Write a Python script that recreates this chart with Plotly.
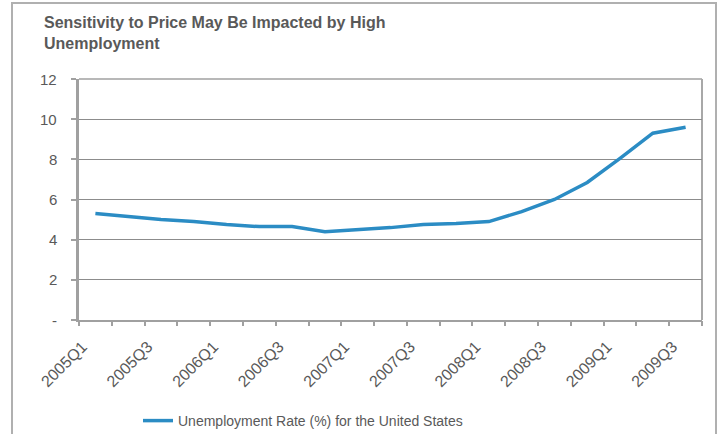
import plotly.graph_objects as go

# Quarterly unemployment rate (%), United States
quarters = [
    "2005Q1", "2005Q2", "2005Q3", "2005Q4",
    "2006Q1", "2006Q2", "2006Q3", "2006Q4",
    "2007Q1", "2007Q2", "2007Q3", "2007Q4",
    "2008Q1", "2008Q2", "2008Q3", "2008Q4",
    "2009Q1", "2009Q2", "2009Q3",
]
unemployment = [
    5.3, 5.15, 5.0, 4.9,
    4.75, 4.65, 4.65, 4.4,
    4.5, 4.6, 4.75, 4.8,
    4.9, 5.4, 6.0, 6.85,
    8.05, 9.3, 9.6,
]
y_ticks = [0, 2, 4, 6, 8, 10, 12]
y_tick_text = ["-", "2", "4", "6", "8", "10", "12"]

series_name = "Unemployment Rate (%) for the United States"
title_text = "Sensitivity to Price May Be Impacted by High<br>Unemployment"

FONT = "Liberation Sans, Arial, sans-serif"
TEXT = "#595959"
AXIS = "#a0a0a0"
GRID = "#8c8c8c"
BLUE = "#2b8cc4"

# page and plot-area geometry in pixels
W, H = 723, 434
ML, MR, T, B = 30, 21, 79, 114      # figure margins
PLOT_LEFT = 79                       # left edge of the plotting area
PW, PH = W - ML - MR, H - T - B


def px_x(x):
    return (x - ML) / PW


def px_y(y):
    return (H - B - y) / PH


idx = list(range(len(quarters)))
label_idx = idx[::2]
label_text = [quarters[i] for i in label_idx]
boundaries = [i - 0.5 for i in range(len(quarters) + 1)]

fig = go.Figure()
fig.add_trace(go.Scatter(
    x=idx, y=unemployment, mode="lines", name=series_name,
    line=dict(color=BLUE, width=3.5),
))
# invisible copy that carries the boundary tick axis
fig.add_trace(go.Scatter(
    x=idx, y=unemployment, mode="lines", xaxis="x2", yaxis="y",
    line=dict(color="rgba(0,0,0,0)", width=0), showlegend=False,
    hoverinfo="skip",
))

domain_x = [px_x(PLOT_LEFT), 1]

# value-axis labels, right-aligned a little left of the axis line
y_labels = [
    dict(text=t, xref="paper", yref="y", x=px_x(59), y=v,
         xanchor="right", yanchor="middle", showarrow=False,
         font=dict(family=FONT, size=15, color=TEXT))
    for v, t in zip(y_ticks, y_tick_text)
]

fig.update_layout(
    width=W, height=H,
    margin=dict(l=ML, r=MR, t=T, b=B, autoexpand=False),
    paper_bgcolor="white", plot_bgcolor="white",
    font=dict(family=FONT, color=TEXT, size=15),
    showlegend=True,
    legend=dict(
        orientation="h",
        xref="container", x=138 / W, xanchor="left",
        yref="container", y=1 - 421 / H, yanchor="middle",
        font=dict(family=FONT, size=14, color=TEXT),
    ),
    xaxis=dict(
        domain=domain_x, automargin=False,
        range=[-0.5, len(quarters) - 0.5],
        tickmode="array", tickvals=label_idx, ticktext=label_text,
        tickangle=-45, ticks="", showgrid=False, zeroline=False,
        showline=True, linecolor=AXIS, linewidth=2,
        tickfont=dict(family=FONT, size=16, color=TEXT),
        ticklabelshift=-13, ticklabelstandoff=9,
    ),
    # category boundary tick marks
    xaxis2=dict(
        domain=domain_x, automargin=False,
        overlaying="x", anchor="y", side="bottom",
        range=[-0.5, len(quarters) - 0.5],
        tickmode="array", tickvals=boundaries,
        ticks="outside", ticklen=5, tickwidth=1.5, tickcolor=AXIS,
        showticklabels=False, showgrid=False, zeroline=False, showline=False,
    ),
    # value axis: thick line, grid and short ticks
    yaxis=dict(
        automargin=False,
        range=[0, 12], tickmode="array", tickvals=y_ticks,
        ticks="outside", ticklen=5, tickwidth=2, tickcolor=AXIS,
        showticklabels=False,
        showline=True, linecolor=AXIS, linewidth=3,
        showgrid=True, gridcolor=GRID, gridwidth=1, zeroline=False,
    ),
    annotations=[
        dict(text=title_text, xref="paper", yref="paper",
             x=px_x(42), y=px_y(12), xanchor="left", yanchor="top",
             align="left", showarrow=False,
             font=dict(family=FONT, size=16, color=TEXT, weight="bold")),
    ] + y_labels,
    shapes=[
        # plot-area frame (top and right edges)
        dict(type="line", xref="x domain", yref="y domain", x0=0, x1=1, y0=1, y1=1,
             line=dict(color="#b8b8b8", width=2), layer="below"),
        dict(type="line", xref="x domain", yref="y domain", x0=1, x1=1, y0=0, y1=1,
             line=dict(color="#a8a8a8", width=2), layer="below"),
        # outer chart border
        dict(type="rect", xref="paper", yref="paper",
             x0=px_x(12), x1=px_x(716), y0=px_y(440), y1=px_y(3),
             line=dict(color="#b0b0b0", width=2), fillcolor="rgba(0,0,0,0)"),
    ],
)

fig.write_html("out.html")
